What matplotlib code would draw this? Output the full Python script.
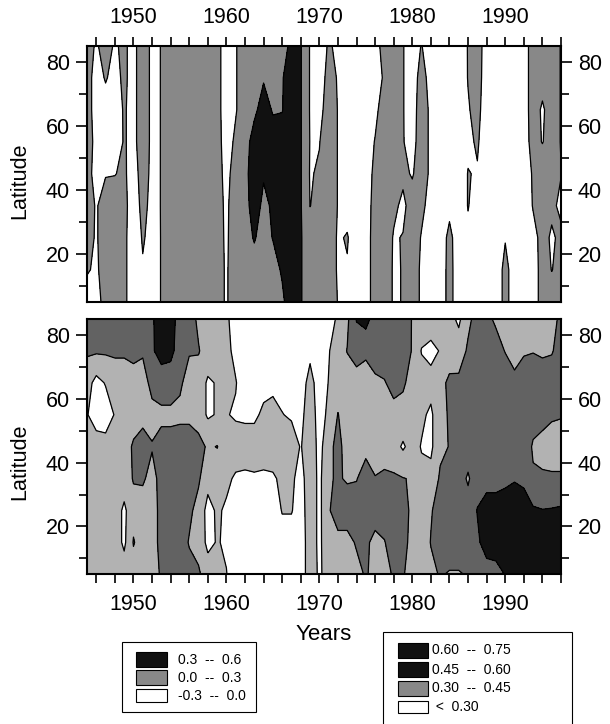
import numpy as np
import matplotlib
matplotlib.use('Agg')
import matplotlib.pyplot as plt
from matplotlib.patches import Rectangle

plt.rcParams['font.family'] = ['Liberation Sans', 'DejaVu Sans']

# Grid: one column per year, one row per 10 degrees of latitude
years = np.arange(1945, 1997)
lats = [5, 15, 25, 35, 45, 55, 65, 75, 85]

# Upper panel values, one list per latitude row
top_lat85 = [0.1, -0.03, 0.1, -0.03, 0.05, -0.1, 0.2, -0.08, 0.01, 0.15,
             0.15, 0.15, 0.15, 0.15, 0.1, -0.15, -0.02, 0.15, 0.15, 0.2,
             0.2, 0.2, 0.36, 0.32, -0.02, -0.15, 0.03, -0.05, -0.1, -0.15,
             -0.1, -0.1, 0.1, 0.15, 0.01, -0.1, 0.01, -0.15, -0.15, -0.15,
             -0.12, 0.01, 0.1, -0.1, -0.15, -0.15, -0.15, -0.1, 0.1, 0.1,
             0.1, -0.01]
top_lat75 = [0.1, -0.1, 0.02, -0.08, 0.05, -0.1, 0.2, -0.08, 0.01, 0.15,
             0.15, 0.15, 0.15, 0.15, 0.1, -0.15, -0.02, 0.15, 0.18, 0.28,
             0.25, 0.28, 0.45, 0.32, -0.02, -0.15, 0.1, -0.02, -0.1, -0.15,
             -0.1, -0.1, 0.03, 0.15, 0.01, -0.1, 0.08, -0.08, -0.15, -0.15,
             -0.15, 0.01, 0.1, -0.12, -0.15, -0.15, -0.15, -0.1, 0.1, 0.08,
             0.1, -0.01]
top_lat65 = [0.15, -0.15, -0.1, -0.15, 0.03, -0.1, 0.2, -0.08, 0.01, 0.15,
             0.15, 0.15, 0.15, 0.15, 0.1, -0.15, -0.02, 0.15, 0.25, 0.4,
             0.28, 0.29, 0.45, 0.32, -0.02, -0.1, 0.15, -0.01, -0.1, -0.15,
             -0.1, -0.05, 0.1, 0.15, 0.01, -0.1, 0.12, -0.05, -0.15, -0.15,
             -0.15, -0.02, 0.08, -0.15, -0.15, -0.15, -0.15, -0.1, 0.1, -0.03,
             0.1, -0.01]
top_lat55 = [0.32, -0.2, -0.2, -0.2, 0.03, -0.1, 0.2, -0.08, 0.01, 0.15,
             0.15, 0.15, 0.15, 0.15, 0.1, -0.12, 0.05, 0.2, 0.4, 0.45,
             0.4, 0.4, 0.45, 0.32, -0.01, -0.01, 0.15, -0.01, -0.1, -0.15,
             -0.1, 0.01, 0.15, 0.15, 0.01, -0.08, 0.12, -0.05, -0.15, -0.15,
             -0.15, -0.05, 0.03, -0.15, -0.15, -0.15, -0.15, -0.1, 0.08, -0.01,
             0.1, -0.01]
top_lat45 = [0.15, -0.15, -0.02, -0.01, 0.05, -0.15, 0.15, -0.08, 0.01, 0.15,
             0.15, 0.15, 0.15, 0.15, 0.1, -0.08, 0.12, 0.22, 0.45, 0.32,
             0.45, 0.45, 0.45, 0.32, -0.02, 0.03, 0.15, -0.01, -0.1, -0.15,
             -0.1, 0.05, 0.15, 0.15, 0.05, -0.02, 0.12, -0.05, -0.15, -0.15,
             -0.15, 0.01, -0.02, -0.15, -0.15, -0.15, -0.15, -0.1, 0.02, 0.15,
             0.1, 0.005]
top_lat35 = [0.15, -0.03, 0.15, 0.15, 0.08, -0.15, 0.08, -0.08, 0.01, 0.15,
             0.15, 0.15, 0.15, 0.15, 0.1, -0.05, 0.15, 0.22, 0.4, 0.25,
             0.33, 0.45, 0.45, 0.32, -0.005, 0.08, 0.15, -0.01, -0.1, -0.15,
             -0.1, 0.08, 0.15, 0.05, -0.05, 0.1, 0.06, -0.1, -0.15, -0.05,
             -0.15, 0.01, -0.1, -0.15, -0.15, -0.1, -0.15, -0.1, 0.01, 0.1,
             0.03, -0.03]
top_lat25 = [0.1, -0.03, 0.15, 0.15, 0.08, -0.2, 0.03, -0.1, 0.01, 0.15,
             0.15, 0.15, 0.15, 0.15, 0.1, -0.04, 0.15, 0.2, 0.32, 0.2,
             0.31, 0.4, 0.45, 0.32, 0.15, 0.15, 0.15, -0.03, 0.02, -0.15,
             -0.1, 0.1, 0.15, -0.02, 0.01, 0.15, -0.02, -0.15, -0.1, 0.05,
             -0.1, -0.05, -0.1, -0.15, -0.15, -0.01, -0.1, -0.1, -0.05, 0.05,
             -0.02, 0.03]
top_lat15 = [0.03, -0.05, 0.15, 0.15, 0.08, -0.2, -0.03, -0.1, 0.01, 0.15,
             0.15, 0.15, 0.15, 0.15, 0.1, -0.03, 0.15, 0.15, 0.2, 0.15,
             0.2, 0.33, 0.45, 0.32, 0.15, 0.15, 0.15, -0.03, -0.02, -0.15,
             -0.1, 0.1, 0.15, -0.03, 0.01, 0.15, -0.05, -0.15, -0.1, 0.06,
             -0.1, -0.1, -0.1, -0.15, -0.1, 0.05, -0.08, -0.1, -0.1, 0.08,
             -0.005, 0.05]
top_lat5 = [-0.15, -0.15, 0.15, 0.15, 0.08, -0.2, -0.1, -0.1, 0.01, 0.15,
            0.15, 0.15, 0.15, 0.15, 0.1, -0.03, 0.15, 0.15, 0.15, 0.15,
            0.15, 0.25, 0.45, 0.32, 0.15, 0.15, 0.15, -0.01, -0.1, -0.15,
            -0.1, 0.1, 0.15, -0.03, 0.01, 0.15, -0.05, -0.15, -0.1, 0.06,
            -0.1, -0.1, -0.1, -0.15, -0.1, 0.05, -0.08, -0.1, -0.1, 0.08,
            0.08, 0.05]

# Lower panel values
bot_lat85 = [0.55, 0.55, 0.55, 0.55, 0.55, 0.55, 0.55, 0.58, 0.68, 0.68,
             0.52, 0.52, 0.42, 0.38, 0.38, 0.33, 0.22, 0.2, 0.2, 0.2,
             0.2, 0.2, 0.2, 0.2, 0.2, 0.2, 0.22, 0.33, 0.42, 0.61,
             0.66, 0.52, 0.55, 0.55, 0.55, 0.44, 0.4, 0.4, 0.4, 0.35,
             0.27, 0.42, 0.5, 0.48, 0.43, 0.4, 0.4, 0.4, 0.4, 0.4,
             0.42, 0.47]
bot_lat75 = [0.47, 0.47, 0.47, 0.47, 0.47, 0.47, 0.47, 0.58, 0.66, 0.64,
             0.53, 0.46, 0.46, 0.38, 0.38, 0.35, 0.25, 0.2, 0.2, 0.2,
             0.2, 0.2, 0.2, 0.2, 0.26, 0.2, 0.29, 0.38, 0.455, 0.5,
             0.47, 0.5, 0.53, 0.53, 0.53, 0.44, 0.29, 0.25, 0.31, 0.4,
             0.38, 0.47, 0.53, 0.5, 0.5, 0.445, 0.42, 0.44, 0.445, 0.43,
             0.44, 0.5]
bot_lat65 = [0.36, 0.25, 0.31, 0.38, 0.38, 0.42, 0.38, 0.5, 0.52, 0.52,
             0.47, 0.4, 0.38, 0.28, 0.31, 0.35, 0.31, 0.2, 0.2, 0.25,
             0.27, 0.25, 0.22, 0.22, 0.36, 0.22, 0.305, 0.38, 0.38, 0.4,
             0.4, 0.43, 0.44, 0.5, 0.47, 0.4, 0.38, 0.36, 0.42, 0.47,
             0.48, 0.52, 0.55, 0.55, 0.55, 0.52, 0.47, 0.5, 0.52, 0.52,
             0.52, 0.52]
bot_lat55 = [0.31, 0.22, 0.22, 0.31, 0.38, 0.38, 0.4, 0.4, 0.42, 0.42,
             0.42, 0.42, 0.38, 0.28, 0.31, 0.31, 0.28, 0.27, 0.27, 0.33,
             0.34, 0.305, 0.28, 0.26, 0.38, 0.24, 0.33, 0.455, 0.38, 0.38,
             0.38, 0.38, 0.38, 0.4, 0.4, 0.38, 0.33, 0.27, 0.42, 0.46,
             0.52, 0.53, 0.55, 0.55, 0.55, 0.55, 0.55, 0.55, 0.52, 0.5,
             0.47, 0.46]
bot_lat45 = [0.38, 0.38, 0.36, 0.38, 0.38, 0.47, 0.52, 0.46, 0.5, 0.5,
             0.52, 0.52, 0.5, 0.43, 0.455, 0.38, 0.38, 0.38, 0.38, 0.38,
             0.38, 0.38, 0.38, 0.29, 0.4, 0.25, 0.4, 0.5, 0.38, 0.38,
             0.42, 0.4, 0.4, 0.36, 0.28, 0.36, 0.29, 0.27, 0.42, 0.455,
             0.52, 0.53, 0.55, 0.55, 0.55, 0.55, 0.55, 0.55, 0.43, 0.4,
             0.38, 0.38]
bot_lat35 = [0.38, 0.38, 0.38, 0.38, 0.38, 0.46, 0.47, 0.4, 0.5, 0.5,
             0.52, 0.52, 0.47, 0.35, 0.35, 0.33, 0.28, 0.27, 0.28, 0.27,
             0.28, 0.33, 0.33, 0.24, 0.4, 0.26, 0.44, 0.46, 0.44, 0.445,
             0.5, 0.455, 0.47, 0.47, 0.455, 0.44, 0.34, 0.35, 0.47, 0.52,
             0.52, 0.43, 0.55, 0.56, 0.56, 0.57, 0.59, 0.57, 0.47, 0.47,
             0.47, 0.47]
bot_lat25 = [0.38, 0.38, 0.38, 0.38, 0.27, 0.4, 0.38, 0.38, 0.5, 0.48,
             0.52, 0.48, 0.4, 0.25, 0.32, 0.28, 0.25, 0.2, 0.2, 0.2,
             0.2, 0.31, 0.31, 0.22, 0.4, 0.26, 0.44, 0.5, 0.5, 0.5,
             0.52, 0.5, 0.5, 0.5, 0.5, 0.42, 0.38, 0.44, 0.5, 0.52,
             0.52, 0.52, 0.605, 0.65, 0.65, 0.67, 0.68, 0.67, 0.62, 0.605,
             0.61, 0.62]
bot_lat15 = [0.38, 0.38, 0.38, 0.38, 0.27, 0.46, 0.38, 0.38, 0.5, 0.5,
             0.52, 0.44, 0.4, 0.26, 0.31, 0.28, 0.22, 0.2, 0.2, 0.2,
             0.2, 0.22, 0.22, 0.2, 0.4, 0.26, 0.43, 0.42, 0.42, 0.46,
             0.47, 0.42, 0.445, 0.5, 0.5, 0.4, 0.38, 0.455, 0.5, 0.52,
             0.52, 0.52, 0.58, 0.65, 0.67, 0.68, 0.7, 0.7, 0.68, 0.68,
             0.68, 0.68]
bot_lat5 = [0.38, 0.38, 0.38, 0.38, 0.38, 0.38, 0.38, 0.38, 0.47, 0.52,
            0.52, 0.5, 0.47, 0.38, 0.38, 0.305, 0.22, 0.2, 0.2, 0.2,
            0.2, 0.2, 0.2, 0.2, 0.4, 0.27, 0.38, 0.38, 0.4, 0.42,
            0.46, 0.42, 0.42, 0.46, 0.46, 0.4, 0.38, 0.42, 0.46, 0.44,
            0.44, 0.46, 0.5, 0.55, 0.55, 0.605, 0.68, 0.68, 0.68, 0.68,
            0.68, 0.68]

top_levels = [-0.3, 0.0, 0.3, 0.6]
bot_levels = [0.0, 0.30, 0.45, 0.60, 0.75]

top_legend_labels = ['0.3  --  0.6', '0.0  --  0.3', '-0.3  --  0.0']
bot_legend_labels = ['0.60  --  0.75', '0.45  --  0.60', '0.30  --  0.45', ' <  0.30']

top_z = np.array([top_lat5, top_lat15, top_lat25, top_lat35, top_lat45,
                  top_lat55, top_lat65, top_lat75, top_lat85])
bot_z = np.array([bot_lat5, bot_lat15, bot_lat25, bot_lat35, bot_lat45,
                  bot_lat55, bot_lat65, bot_lat75, bot_lat85])

W, H = 610, 724
fig = plt.figure(figsize=(W / 100, H / 100), dpi=100)


def px_box(x0, y0, x1, y1):
    # pixel box (from top-left) -> figure fraction [left, bottom, w, h]
    return [x0 / W, 1 - y1 / H, (x1 - x0) / W, (y1 - y0) / H]


ax1 = fig.add_axes(px_box(87, 45.7, 561, 301.7))
ax2 = fig.add_axes(px_box(87, 319, 561, 574.3))

ax1.contourf(years, lats, top_z, levels=top_levels,
             colors=['white', '#888888', '#111111'])
ax1.contour(years, lats, top_z, levels=[0.0, 0.3], colors='k', linewidths=0.9)

ax2.contourf(years, lats, bot_z, levels=bot_levels,
             colors=['white', '#b2b2b2', '#626262', '#111111'])
ax2.contour(years, lats, bot_z, levels=[0.30, 0.45, 0.60], colors='k',
            linewidths=0.9)

for ax in (ax1, ax2):
    ax.set_xlim(1945, 1996)
    ax.set_ylim(5, 85)
    ax.set_xticks([1950, 1960, 1970, 1980, 1990])
    ax.set_xticks(np.arange(1946, 1997, 2), minor=True)
    ax.set_yticks([20, 40, 60, 80])
    ax.set_yticks(np.arange(10, 90, 10), minor=True)
    for s in ax.spines.values():
        s.set_linewidth(1.5)
    ax.tick_params(axis='both', which='both', direction='out', width=1.2,
                   labelsize=15.5)
    ax.tick_params(axis='y', which='major', length=7.7)
    ax.tick_params(axis='y', which='minor', length=5.8)
    ax.tick_params(axis='x', which='both', length=6.5)
    ax.tick_params(axis='y', which='both', left=True, right=True,
                   labelleft=True, labelright=True, pad=4.5)

ax1.tick_params(axis='x', which='both', top=True, bottom=False,
                labeltop=True, labelbottom=False, pad=6)
ax2.tick_params(axis='x', which='both', top=False, bottom=True,
                labeltop=False, labelbottom=True, pad=8)

fig.text(20 / W, 1 - 181 / H, 'Latitude', rotation=90, ha='center',
         va='center', fontsize=15.5)
fig.text(20 / W, 1 - 462 / H, 'Latitude', rotation=90, ha='center',
         va='center', fontsize=15.5)
fig.text(324 / W, 1 - 635 / H, 'Years', ha='center', va='center',
         fontsize=16)


def draw_legend(box, sw_x, rows, labels, colors, text_x):
    fig.add_artist(Rectangle((box[0], box[1]), box[2], box[3],
                             transform=fig.transFigure, fill=False,
                             edgecolor='k', linewidth=0.8))
    for (y0, y1), lab, col in zip(rows, labels, colors):
        b = px_box(sw_x[0], y0, sw_x[1], y1)
        fig.add_artist(Rectangle((b[0], b[1]), b[2], b[3],
                                 transform=fig.transFigure, facecolor=col,
                                 edgecolor='k', linewidth=0.8))
        fig.text(text_x / W, 1 - (y0 + y1) / 2 / H, lab, ha='left',
                 va='center', fontsize=10)


draw_legend(px_box(122, 642, 256, 712), (136, 167),
            [(652, 667), (670, 685), (689, 702)],
            top_legend_labels, ['#111111', '#888888', 'white'], 178)
draw_legend(px_box(383, 632, 572, 740), (398, 428),
            [(643, 658), (662, 677), (681, 696), (701, 713)],
            bot_legend_labels, ['#111111', '#111111', '#888888', 'white'], 432)

fig.savefig('out.png', dpi=100)
